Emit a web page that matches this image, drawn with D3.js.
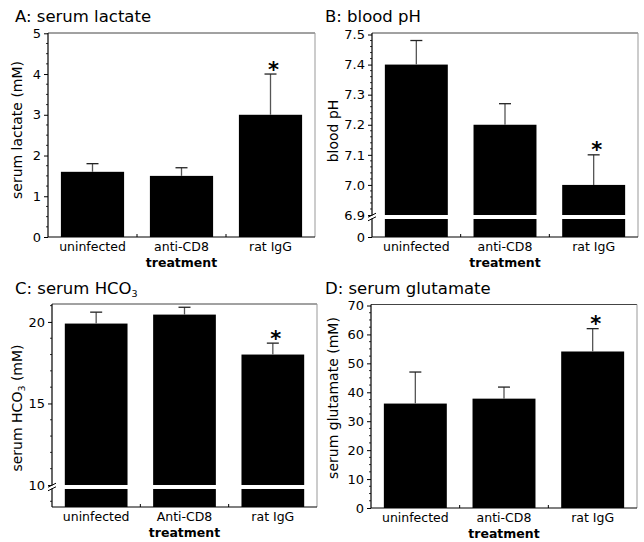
<!DOCTYPE html>
<html>
<head>
<meta charset="utf-8">
<script src="https://cdn.jsdelivr.net/npm/d3@7"></script>
<style>
  body { margin: 0; background: #fff; }
  svg { display: block; font-family: "DejaVu Sans", sans-serif; }
</style>
</head>
<body>
<svg id="chart" width="644" height="542"></svg>
<script>
// ---------- data ----------
const categoriesLower = ["uninfected", "anti-CD8", "rat IgG"];
const categoriesC = ["uninfected", "Anti-CD8", "rat IgG"];
const significant = [false, false, true];

const lactateMean = [1.6, 1.5, 3.0];
const lactateErr = [0.2, 0.2, 1.0];
const lactateTicks = [0, 1, 2, 3, 4, 5];

const pHMean = [7.40, 7.20, 7.00];
const pHErr = [0.08, 0.07, 0.10];
const pHTicks = [0, 6.9, 7.0, 7.1, 7.2, 7.3, 7.4, 7.5];

const hco3Mean = [19.9, 20.45, 18.0];
const hco3Err = [0.7, 0.45, 0.7];
const hco3Ticks = [10, 15, 20];

const glutamateMean = [36.1, 37.8, 54.1];
const glutamateErr = [10.9, 4.0, 7.9];
const glutamateTicks = [0, 10, 20, 30, 40, 50, 60, 70];

// ---------- drawing ----------
const svg = d3.select("#chart");

function panel(cfg) {
  const g = svg.append("g");
  const { left, right, top, bottom } = cfg.box;
  const x = d3.scaleBand().domain(cfg.categories).range([left, right]).paddingInner(0.29).paddingOuter(0.145);
  const y = d3.scaleLinear().domain(cfg.domain).range(cfg.range);

  // frame (top, right)
  g.append("line").attr("x1", left).attr("x2", right).attr("y1", top).attr("y2", top)
    .attr("stroke", "#444").attr("stroke-width", 1);
  g.append("line").attr("x1", right).attr("x2", right).attr("y1", top).attr("y2", bottom)
    .attr("stroke", "#999").attr("stroke-width", 1);

  const data = cfg.categories.map((c, i) => ({ c, v: cfg.mean[i], e: cfg.err[i], s: significant[i] }));
  const yMin = cfg.domain[0];

  // bars
  data.forEach(d => {
    if (cfg.brk !== undefined) {
      g.append("rect").attr("x", x(d.c)).attr("width", x.bandwidth())
        .attr("y", y(d.v)).attr("height", y(cfg.brk) - y(d.v)).attr("fill", "#000");
      g.append("rect").attr("x", x(d.c)).attr("width", x.bandwidth())
        .attr("y", y(cfg.brk) + 4).attr("height", y(yMin) - y(cfg.brk) - 4).attr("fill", "#000");
    } else {
      g.append("rect").attr("x", x(d.c)).attr("width", x.bandwidth())
        .attr("y", y(d.v)).attr("height", y(yMin) - y(d.v)).attr("fill", "#000");
    }
    const cx = x(d.c) + x.bandwidth() / 2;
    g.append("line").attr("x1", cx).attr("x2", cx).attr("y1", y(d.v)).attr("y2", y(d.v + d.e))
      .attr("stroke", "#555").attr("stroke-width", 1.3);
    g.append("line").attr("x1", cx - 6).attr("x2", cx + 6).attr("y1", y(d.v + d.e)).attr("y2", y(d.v + d.e))
      .attr("stroke", "#222").attr("stroke-width", 1.3);
    if (d.s) {
      g.append("text").attr("x", cx + 3).attr("y", y(d.v + d.e) - 10 + 12.5)
        .attr("text-anchor", "middle").attr("font-size", 21).attr("font-weight", "bold").text("*");
    }
  });

  // left axis
  const yAxis = d3.axisLeft(y).tickValues(cfg.ticks).tickSize(4).tickPadding(3).tickFormat(cfg.fmt);
  const ya = g.append("g").attr("transform", `translate(${left},0)`).call(yAxis);
  ya.select(".domain").attr("d", `M-0,${top}V${bottom}`).attr("stroke", "#000").attr("stroke-width", 1.2);
  ya.selectAll("text").attr("font-size", 13).attr("font-family", "DejaVu Sans").attr("fill", "#000");
  ya.selectAll(".tick line").attr("stroke", "#000");
  // minor ticks
  cfg.minor.forEach(v => {
    g.append("line").attr("x1", left - 2).attr("x2", left).attr("y1", y(v)).attr("y2", y(v))
      .attr("stroke", "#000").attr("stroke-width", 0.8);
  });
  // break marks
  if (cfg.brk !== undefined) {
    const by = y(cfg.brk) + 2;
    g.append("rect").attr("x", left - 1).attr("y", by - 1.5).attr("width", 2).attr("height", 3).attr("fill", "#fff");
    [-1.8, 1.8].forEach(o => {
      g.append("line").attr("x1", left - 4).attr("x2", left + 4)
        .attr("y1", by + o + 2).attr("y2", by + o - 2).attr("stroke", "#000").attr("stroke-width", 1);
    });
  }

  // bottom axis
  g.append("line").attr("x1", left).attr("x2", right).attr("y1", bottom).attr("y2", bottom)
    .attr("stroke", "#000").attr("stroke-width", 1.2);
  cfg.categories.slice(1).forEach(c => {
    const bx = x(c) - x.step() * x.paddingInner() / 2;
    g.append("line").attr("x1", bx).attr("x2", bx).attr("y1", bottom).attr("y2", bottom - 3)
      .attr("stroke", "#000");
  });
  cfg.categories.forEach(c => {
    g.append("text").attr("x", x(c) + x.bandwidth() / 2).attr("y", bottom + 14)
      .attr("text-anchor", "middle").attr("font-size", 12.5).text(c);
  });
  g.append("text").attr("x", (left + right) / 2).attr("y", bottom + 30)
    .attr("text-anchor", "middle").attr("font-size", 12.5).attr("font-weight", "bold").text("treatment");

  // title
  const t = g.append("text").attr("x", cfg.titlePos[0]).attr("y", cfg.titlePos[1]).attr("font-size", 16.5);
  cfg.title(t);

  // y title
  const yt = g.append("text").attr("transform", `translate(${cfg.yTitlePos[0]},${cfg.yTitlePos[1]}) rotate(-90)`)
    .attr("text-anchor", "middle").attr("font-size", 14);
  cfg.yTitle(yt);
}

const fmtInt = d3.format("d");

panel({
  box: { left: 48, right: 315, top: 33, bottom: 237 },
  categories: categoriesLower, mean: lactateMean, err: lactateErr,
  domain: [0, 5], range: [237, 33.3], ticks: lactateTicks, fmt: fmtInt,
  minor: d3.range(0, 5.01, 0.25).filter(v => !lactateTicks.includes(v)),
  titlePos: [15, 22], title: t => t.text("A: serum lactate"),
  yTitlePos: [22, 130], yTitle: t => t.text("serum lactate (mM)")
});

panel({
  box: { left: 372, right: 638, top: 33, bottom: 237 },
  categories: categoriesLower, mean: pHMean, err: pHErr,
  domain: [0, 6.9, 7.5], range: [237, 215, 34.5], ticks: pHTicks, brk: 6.9,
  fmt: d => d === 0 ? "0" : d3.format(".1f")(d),
  minor: d3.range(6.92, 7.5, 0.02).filter(v => Math.abs(v * 10 - Math.round(v * 10)) > 0.01),
  titlePos: [325, 22], title: t => t.text("B: blood pH"),
  yTitlePos: [338, 131], yTitle: t => t.text("blood pH")
});

panel({
  box: { left: 52, right: 317, top: 304, bottom: 507 },
  categories: categoriesC, mean: hco3Mean, err: hco3Err,
  domain: [8.65, 21.1], range: [507, 304], ticks: hco3Ticks, brk: 10, fmt: fmtInt,
  minor: d3.range(9, 21.01, 1).filter(v => !hco3Ticks.includes(v)),
  titlePos: [15, 294], title: t => {
    t.append("tspan").text("C: serum HCO");
    t.append("tspan").attr("font-size", 9.5).attr("dy", 3).text("3");
  },
  yTitlePos: [22, 408], yTitle: t => {
    t.append("tspan").text("serum HCO");
    t.append("tspan").attr("font-size", 9.5).attr("dy", 3).text("3");
    t.append("tspan").attr("dy", -3).text(" (mM)");
  }
});

panel({
  box: { left: 371, right: 637, top: 304.5, bottom: 508 },
  categories: categoriesLower, mean: glutamateMean, err: glutamateErr,
  domain: [0, 70], range: [508, 305.5], ticks: glutamateTicks, fmt: fmtInt,
  minor: d3.range(0, 70.01, 2.5).filter(v => !glutamateTicks.includes(v)),
  titlePos: [325, 294], title: t => t.text("D: serum glutamate"),
  yTitlePos: [338, 398], yTitle: t => t.text("serum glutamate (mM)")
});
</script>
</body>
</html>
